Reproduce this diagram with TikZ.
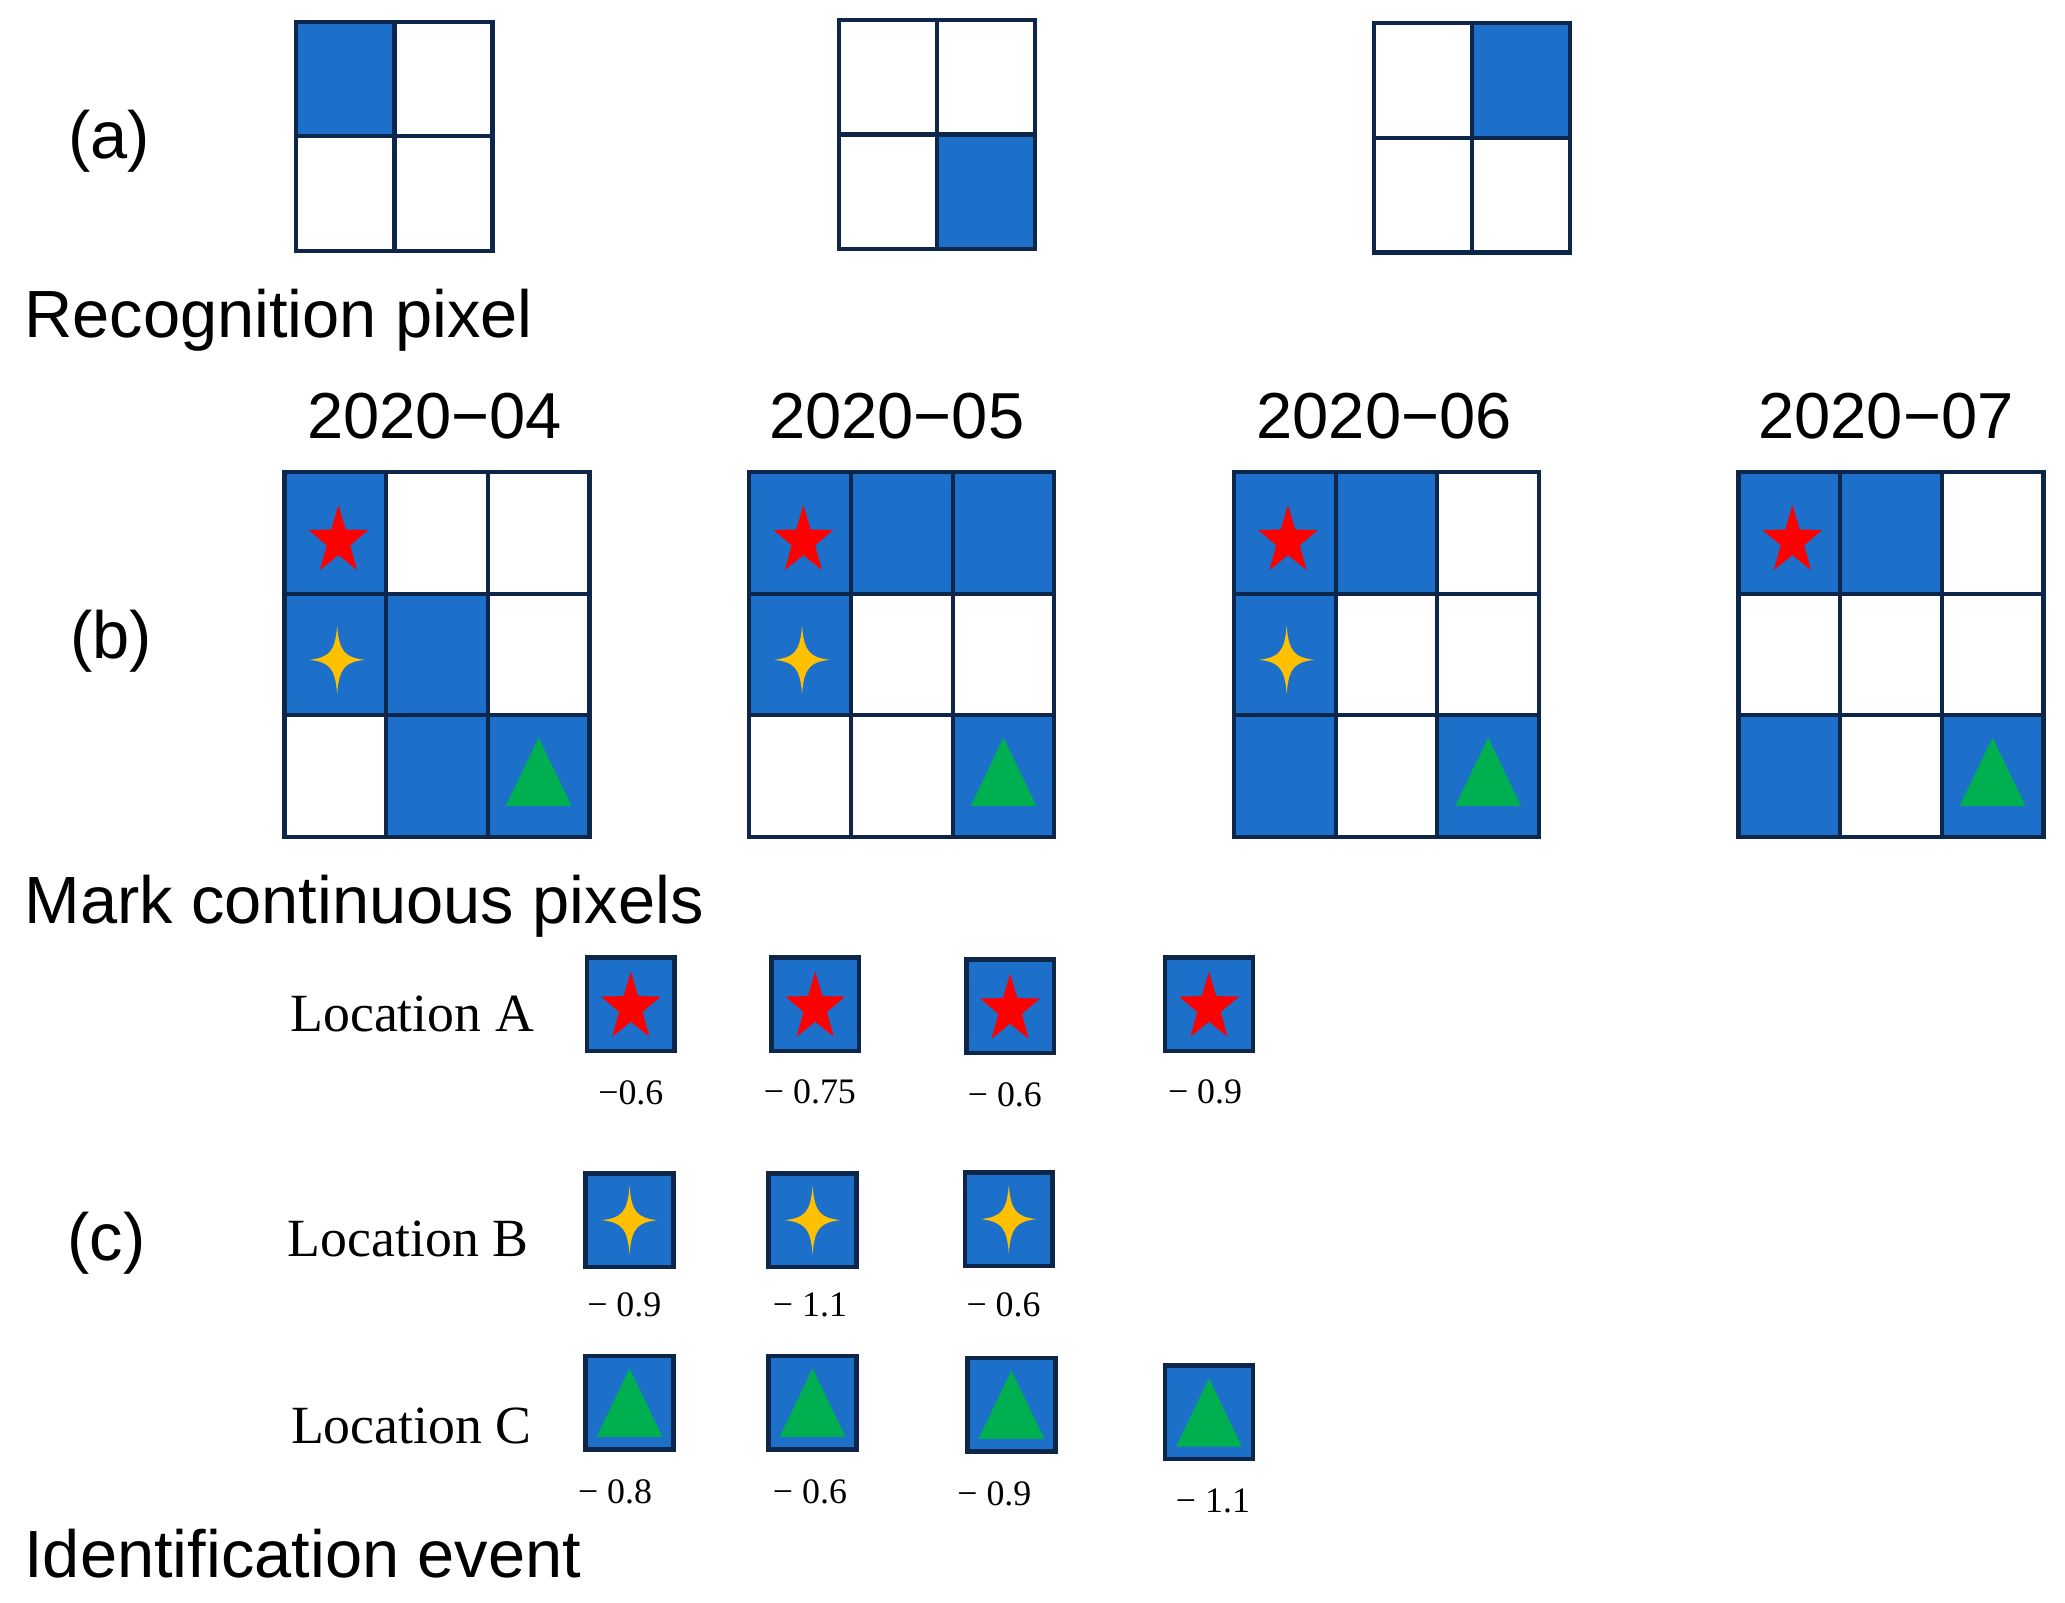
\documentclass[tikz,border=0pt]{standalone}
\usepackage{fontspec}
\setmainfont{Liberation Sans}
\newfontfamily\timesfont{Liberation Serif}
\definecolor{PixBlue}{RGB}{28,112,202}
\definecolor{PixEdge}{RGB}{14,38,74}
\definecolor{StarRed}{RGB}{255,0,0}
\definecolor{SparkGold}{RGB}{255,192,0}
\definecolor{TriGreen}{RGB}{0,176,80}
\tikzset{
  redstar/.pic={\fill[StarRed] (0,-27.3) -- (-5.5,-8.7) -- (-22.7,-8.4) -- (-8.9,3.3) -- (-14.1,22.1) -- (0,10.7) -- (14.1,22.1) -- (8.9,3.3) -- (22.7,-8.4) -- (5.5,-8.7) -- cycle;},
  goldspark/.pic={\fill[SparkGold] (0,-26) .. controls (1.5,-6) and (6,-1.8) .. (21,0) .. controls (6,1.8) and (1.5,6) .. (0,26) .. controls (-1.5,6) and (-6,1.8) .. (-21,0) .. controls (-6,-1.8) and (-1.5,-6) .. (0,-26) -- cycle;},
  greentri/.pic={\fill[TriGreen] (-25,26) -- (25,26) -- (0,-26) -- cycle;}
}
\begin{document}
\begin{tikzpicture}[x=0.1317mm, y=-0.1317mm,
    cell/.style={draw=PixEdge, line width=1.2pt},
    bigtext/.style={font=\fontsize{19}{22}\selectfont},
    yeartext/.style={font=\fontsize{18.5}{22}\selectfont},
    loctext/.style={font={\timesfont\fontsize{15.3}{18}\selectfont}, inner sep=0pt},
    valtext/.style={font={\timesfont\fontsize{10.2}{12}\selectfont}},
    pixbox/.style={draw=PixEdge, fill=PixBlue, line width=1.3pt, minimum width=8.76mm, minimum height=9.35mm, inner sep=0pt}]
  \useasboundingbox (0,0) rectangle (1568,1217.2);

  \node[bigtext] (tagA) at (83,107.5) {(a)};
  \node[bigtext, anchor=base west, inner sep=0pt] (recog) at (18,256) {Recognition pixel};
  \foreach \gx/\gy/\fr/\fc in {225/16.5/1/1, 637/15.2/2/2, 1043/17.7/1/2}{
    \fill[PixBlue] ({\gx+(\fc-1)*74.5},{\gy+(\fr-1)*87}) rectangle ++(74.5,87);
    \foreach \r in {1,2} \foreach \c in {1,2}
      \draw[cell] ({\gx+(\c-1)*74.5},{\gy+(\r-1)*87}) rectangle ++(74.5,87);
  }

  \node[bigtext] (tagB) at (84.6,486.7) {(b)};
  \node[bigtext, anchor=base west, inner sep=0pt] (mark) at (18,701) {Mark continuous pixels};
  \foreach \yx/\ym [count=\g] in {330/04, 681/05, 1051/06, 1432/07}
    \node[yeartext] (year\g) at (\yx,316) {2020−\ym};
  \foreach \gx/\filled in {216/{1/1,2/1,2/2,3/2,3/3}, 569/{1/1,1/2,1/3,2/1,3/3}, 937/{1/1,1/2,2/1,3/1,3/3}, 1320/{1/1,1/2,3/1,3/3}}{
    \foreach \r/\c in \filled
      \fill[PixBlue] ({\gx+(\c-1)*77.2},{358.5+(\r-1)*92.3}) rectangle ++(77.2,92.3);
    \foreach \r in {1,2,3} \foreach \c in {1,2,3}
      \draw[cell] ({\gx+(\c-1)*77.2},{358.5+(\r-1)*92.3}) rectangle ++(77.2,92.3);
    \pic at ({\gx+41},410.8) {redstar};
    \pic at ({\gx+193},586) {greentri};
  }
  \foreach \gx in {216,569,937}
    \pic at ({\gx+40},501) {goldspark};

  \node[bigtext] (tagC) at (81,944) {(c)};
  \node[bigtext, anchor=base west, inner sep=0pt] (ident) at (18,1198) {Identification event};
  \node[loctext, anchor=base west] (locA) at (220,783) {Location A};
  \node[loctext, anchor=base west] (locB) at (218,954) {Location B};
  \node[loctext, anchor=base west] (locC) at (220.5,1096) {Location C};
  \foreach \px/\py/\vx/\vy/\val [count=\i] in {479/762.5/479/829.5/{−0.6}, 619/762.5/615/829/{− 0.75}, 767/764/763/831/{− 0.6}, 918/762.5/915/829/{− 0.9}}{
    \node[pixbox] (sqA\i) at (\px,\py) {};
    \pic at (\px,{\py+2.6}) {redstar};
    \node[valtext] (valA\i) at (\vx,\vy) {\val};
  }
  \foreach \px/\py/\vx/\vy/\val [count=\i] in {478/926.5/474/991/{− 0.9}, 617/926.5/615/991/{− 1.1}, 766/925.7/762/991/{− 0.6}}{
    \node[pixbox] (sqB\i) at (\px,\py) {};
    \pic at (\px,\py) {goldspark};
    \node[valtext] (valB\i) at (\vx,\vy) {\val};
  }
  \foreach \px/\py/\vx/\vy/\val [count=\i] in {478/1065/467/1133/{− 0.8}, 617/1065/615/1133/{− 0.6}, 768/1066.5/755/1134/{− 0.9}, 918/1072.5/921/1139.6/{− 1.1}}{
    \node[pixbox] (sqC\i) at (\px,\py) {};
    \pic at (\px,\py) {greentri};
    \node[valtext] (valC\i) at (\vx,\vy) {\val};
  }
\end{tikzpicture}
\end{document}
